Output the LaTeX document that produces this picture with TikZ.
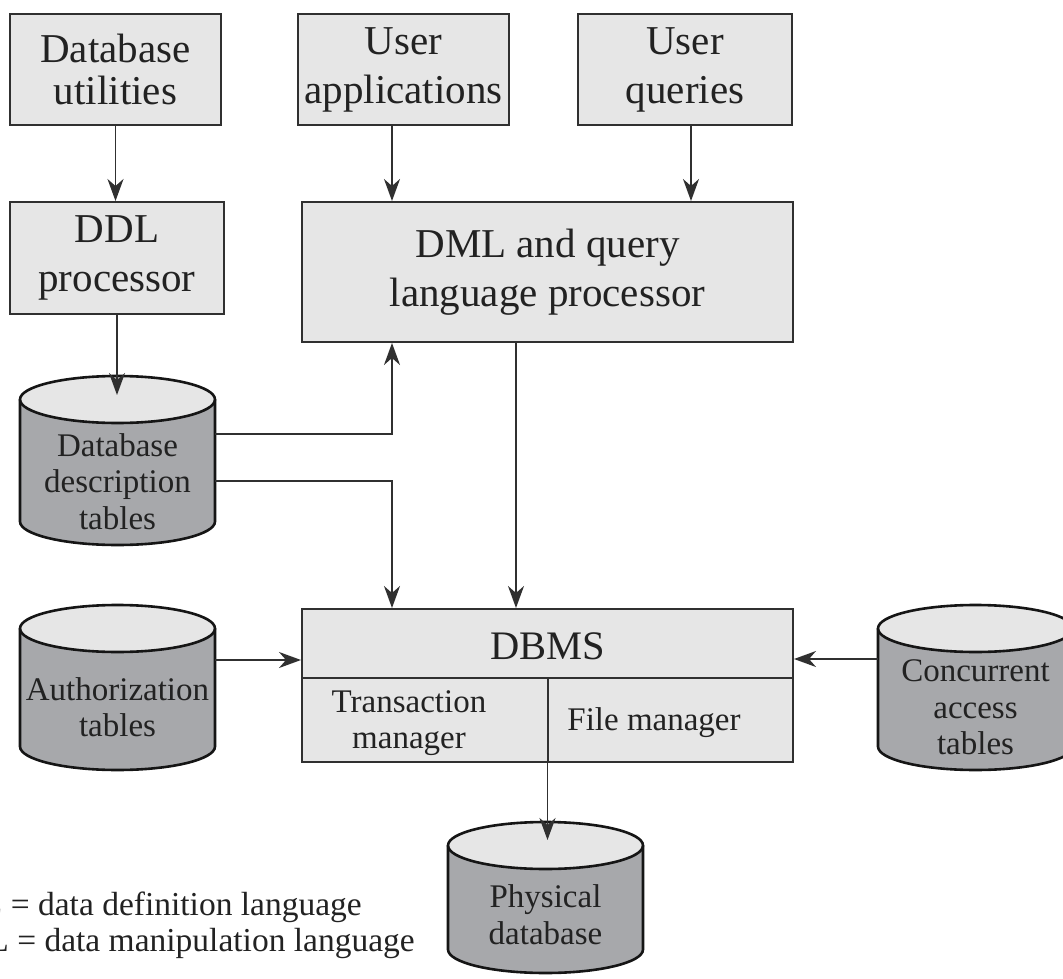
\documentclass[tikz,border=0pt]{standalone}
\usepackage{fontspec}
\setmainfont{Liberation Serif}
\usetikzlibrary{arrows.meta,calc}
\definecolor{boxfill}{HTML}{E6E6E6}
\definecolor{cylbody}{HTML}{A7A8AB}
\definecolor{cyltop}{HTML}{E6E6E6}
\definecolor{linec}{HTML}{303030}
\definecolor{cylline}{HTML}{151515}
\definecolor{txt}{HTML}{222222}
\newcommand\dbcyl[6]{%
  \path[fill=cylbody] (#2-97.5,#3+23.5) -- (#2-97.5,#4-23.5) arc[start angle=180,end angle=0,x radius=97.5,y radius=23.5] -- (#2+97.5,#3+23.5) -- cycle;
  \path[fill=cyltop] (#2,#3+23.5) ellipse[x radius=97.5,y radius=23.5];
  \draw[cylborder] (#2-97.5,#3+23.5) -- (#2-97.5,#4-23.5) arc[start angle=180,end angle=0,x radius=97.5,y radius=23.5] -- (#2+97.5,#3+23.5);
  \draw[cylborder] (#2,#3+23.5) ellipse[x radius=97.5,y radius=23.5];
  \node[cyltext] (#1) at (#2,#5) {#6};
}
\begin{document}
\begin{tikzpicture}[x=1pt,y=-1pt,
  box/.style={draw=linec, line width=2pt, fill=boxfill, inner sep=0pt, text=txt, align=center},
  boxline/.style={draw=linec, line width=2pt},
  cylborder/.style={draw=cylline, line width=2.6pt},
  cyltext/.style={text=txt, align=center, inner sep=0pt, font=\fontsize{33}{36.5}\selectfont},
  arr/.style={draw=linec, line width=1.8pt, -{Stealth[length=22pt,width=16pt,inset=7pt]}},
  legend/.style={text=txt, inner sep=0pt, anchor=base east, font=\fontsize{33.5}{40}\selectfont},
  big/.style={font=\fontsize{41}{49}\selectfont},
  mid/.style={font=\fontsize{33}{36}\selectfont, text=txt, align=center, inner sep=0pt}
]
\useasboundingbox (0,0) rectangle (1063,979);

% top boxes
\node[box, font=\fontsize{41}{42}\selectfont, minimum width=211, minimum height=111] (dbu) at (115.5,69.5) {Database\\utilities};
\node[box, big, minimum width=211, minimum height=111] (uapp) at (403.5,69.5) {User\\applications};
\node[box, big, minimum width=214, minimum height=111] (uq) at (685,69.5) {User\\queries};
\node[box, big, minimum width=214, minimum height=112] (ddl) at (117,258) {DDL\\processor};
\node[box, big, minimum width=491, minimum height=140] (dml) at (547.5,272) {DML and query\\language processor};

% DBMS
\node[box, minimum width=491, minimum height=153] (dbms) at (547.5,685.5) {};
\draw[boxline] (302,678) -- (793,678);
\draw[boxline] (547.5,678) -- (547.5,762);
\node[text=txt, inner sep=0pt, font=\fontsize{40.5}{48}\selectfont] (dbmst) at (547.5,646.6) {DBMS};
\node[mid] (tm) at (409,722.8) {Transaction\\manager};
\node[mid] (fm) at (654,722.5) {File manager};

% cylinders
\dbcyl{ddesc}{117.5}{376}{545}{481.3}{Database\\description\\tables}
\dbcyl{auth}{117.5}{605}{770}{707.3}{Authorization\\tables}
\dbcyl{conc}{975.5}{605}{770}{707.3}{Concurrent\\access\\tables}
\dbcyl{phys}{545.5}{822}{973}{914.8}{Physical\\database}

\coordinate (ddesc-top) at (117,395);
\coordinate (ddesc-o1) at (215,434);
\coordinate (ddesc-o2) at (215,481);
\coordinate (auth-o) at (215,660);
\coordinate (conc-o) at (878,659);
\coordinate (phys-top) at (547.5,840);

% connectors
\draw[arr] (dbu.south) -- (dbu.south |- ddl.north);
\draw[arr] ([xshift=-11.5pt]uapp.south) -- ([xshift=-11.5pt]uapp.south |- dml.north);
\draw[arr] ([xshift=6pt]uq.south) -- ([xshift=6pt]uq.south |- dml.north);
\draw[arr] (ddl.south) -- (ddl.south |- ddesc-top);
\draw[arr] (ddesc-o1) -| ([xshift=-155.5pt]dml.south);
\draw[arr] (ddesc-o2) -| ([xshift=-155.5pt]dbms.north);
\draw[arr] ([xshift=-31.5pt]dml.south) -- ([xshift=-31.5pt]dbms.north);
\draw[arr] (auth-o) -- (auth-o -| dbms.west);
\draw[arr] (conc-o) -- (conc-o -| dbms.east);
\draw[arr] (dbms.south) -- (phys-top);

% legend
\node[legend] (lg1) at (362,915) {DDL = data definition language};
\node[legend] (lg2) at (415,951) {DML = data manipulation language};
\end{tikzpicture}
\end{document}
